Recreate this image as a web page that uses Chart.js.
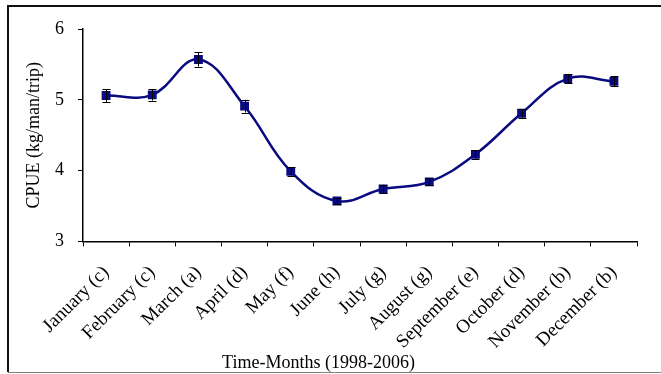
<!DOCTYPE html>
<html>
<head>
<meta charset="utf-8">
<script src="https://cdn.jsdelivr.net/npm/chart.js@4.4.1/dist/chart.umd.min.js"></script>
<style>
html,body{margin:0;padding:0;background:#fff;}
#wrap{position:relative;width:661px;height:374px;}
</style>
</head>
<body>
<div id="wrap"><canvas id="c" width="661" height="374"></canvas></div>
<script>
const months = ["January (c)", "February (c)", "March (a)", "April (d)", "May (f)", "June (h)", "July (g)", "August (g)", "September (e)", "October (d)", "November (b)", "December (b)"];
const cpue = [5.06, 5.07, 5.57, 4.91, 3.99, 3.57, 3.74, 3.84, 4.23, 4.81, 5.30, 5.26];
const cpueErr = [0.09, 0.08, 0.10, 0.09, 0.06, 0.04, 0.06, 0.05, 0.06, 0.06, 0.06, 0.07];
const yTicks = [3, 4, 5, 6];

const SERIF = "'Liberation Serif', 'Times New Roman', serif";

const framePlugin = {
  id: 'frame',
  beforeDraw(chart) {
    const ctx = chart.ctx;
    ctx.save();
    ctx.fillStyle = '#fff';
    ctx.fillRect(0, 0, chart.width, chart.height);
    ctx.strokeStyle = '#111';
    ctx.lineWidth = 2;
    ctx.beginPath();
    ctx.moveTo(8, 372);
    ctx.lineTo(8, 6);
    ctx.lineTo(661, 6);
    ctx.stroke();
    ctx.strokeStyle = '#808080';
    ctx.lineWidth = 1;
    ctx.beginPath();
    ctx.moveTo(8, 372.5);
    ctx.lineTo(661, 372.5);
    ctx.stroke();
    ctx.restore();
  }
};

const errorBarPlugin = {
  id: 'errbars',
  afterDatasetsDraw(chart) {
    const ctx = chart.ctx;
    const meta = chart.getDatasetMeta(0);
    const ys = chart.scales.y;
    ctx.save();
    ctx.strokeStyle = '#000';
    ctx.lineWidth = 1;
    meta.data.forEach((pt, i) => {
      const x = Math.round(pt.x) + 0.5;
      const yt = ys.getPixelForValue(cpue[i] + cpueErr[i]);
      const yb = ys.getPixelForValue(cpue[i] - cpueErr[i]);
      ctx.beginPath();
      ctx.moveTo(x, yt); ctx.lineTo(x, yb);
      ctx.moveTo(x - 4, Math.round(yt) + 0.5); ctx.lineTo(x + 4, Math.round(yt) + 0.5);
      ctx.moveTo(x - 4, Math.round(yb) + 0.5); ctx.lineTo(x + 4, Math.round(yb) + 0.5);
      ctx.stroke();
    });
    ctx.restore();
  }
};

new Chart(document.getElementById('c'), {
  type: 'line',
  data: {
    labels: months,
    datasets: [{
      data: cpue,
      borderColor: '#0a0a80',
      backgroundColor: '#0a0a80',
      borderWidth: 2.5,
      tension: 0.4,
      pointStyle: 'rect',
      pointRadius: 4.5,
      pointHoverRadius: 4.5,
      fill: false
    }]
  },
  options: {
    responsive: false,
    animation: false,
    events: [],
    layout: { padding: { left: 0, top: 29, right: 24, bottom: 0 } },
    plugins: {
      legend: { display: false },
      tooltip: { enabled: false },
      title: {
        display: true,
        position: 'bottom',
        text: 'Time-Months (1998-2006)',
        color: '#000',
        font: { family: SERIF, size: 18, weight: 'normal' },
        padding: { top: 0, bottom: 0 }
      }
    },
    scales: {
      x: {
        type: 'category',
        offset: true,
        afterFit(s) { s.height = 111; },
        grid: { offset: true, drawOnChartArea: false, drawTicks: true, tickLength: 5, color: '#000', tickColor: '#000' },
        border: { display: true, color: '#000', width: 1.5 },
        ticks: {
          color: '#000',
          font: { family: SERIF, size: 19 },
          minRotation: 45,
          maxRotation: 45,
          padding: 15,
          autoSkip: false
        }
      },
      y: {
        min: 3,
        max: 6,
        afterFit(s) { s.width = 83; },
        afterBuildTicks(s) { s.ticks = yTicks.map(v => ({ value: v })); },
        grid: { drawOnChartArea: false, drawTicks: true, tickLength: 5, color: '#000', tickColor: '#000' },
        border: { display: true, color: '#000', width: 1.5 },
        ticks: {
          color: '#000',
          font: { family: SERIF, size: 18 },
          padding: 14
        },
        title: {
          display: true,
          text: 'CPUE (kg/man/trip)',
          color: '#000',
          font: { family: SERIF, size: 18, weight: 'normal' },
          padding: { top: 23, bottom: 0 }
        }
      }
    }
  },
  plugins: [framePlugin, errorBarPlugin]
});
</script>
</body>
</html>
